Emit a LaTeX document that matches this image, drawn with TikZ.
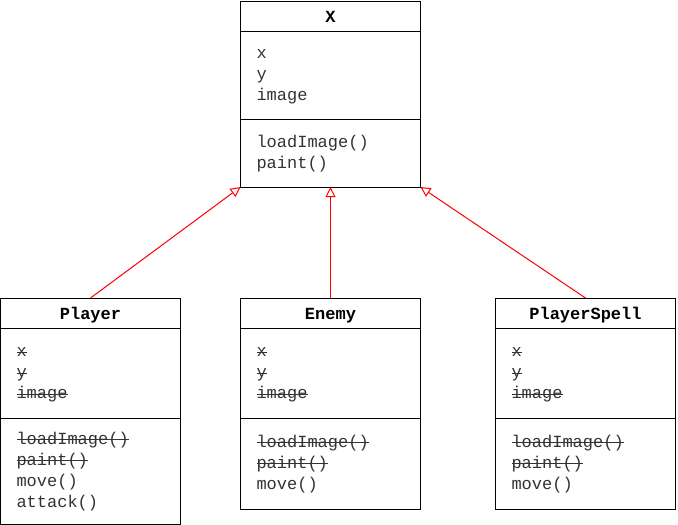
\documentclass[tikz,border=0pt]{standalone}
\usepackage{fontspec}
\setmonofont{Liberation Mono}
\usetikzlibrary{arrows.meta, positioning}
\definecolor{UMLText}{RGB}{51,51,51}
\definecolor{UMLRed}{RGB}{255,0,0}
\newcommand{\strk}[1]{\leavevmode\setbox0\hbox{#1}\rlap{\rule[0.27em]{\wd0}{0.8pt}}\box0}

\begin{document}
\begin{tikzpicture}[
            x=1pt, y=1pt,
            node distance=0pt,
            classbox/.style={
                draw=black,
                fill=white,
                line width=1pt,
                outer sep=0pt,
                inner xsep=16pt,
                text width=148pt,
                font=\ttfamily\fontsize{17}{21}\selectfont
            },
            titlebox/.style={
                classbox,
                align=center,
                minimum height=30pt,
                text height=13pt,
                text depth=0pt,
                font=\ttfamily\bfseries\fontsize{17}{21}\selectfont
            },
            partbox/.style={
                classbox,
                align=left,
                text=UMLText,
                execute at begin node={\rule{0pt}{13.5pt}}
            },
            inherit/.style={-{Triangle[open, length=10pt, width=10pt]}, draw=UMLRed, line width=1pt}
        ]
            \useasboundingbox (0,0) rectangle (678,-525);

            % base class
            \node[titlebox] (xtitle) at (330.5,-16) {X};
            \node[partbox, minimum height=88pt, below=of xtitle] (xattr) {x\\y\\image};
            \node[partbox, minimum height=68pt, below=of xattr] (xmeth) {loadImage()\\paint()};

            % subclasses
            \node[titlebox] (ptitle) at (90.5,-313) {Player};
            \node[partbox, minimum height=90pt, below=of ptitle] (pattr) {\strk{x}\\\strk{y}\\\strk{image}};
            \node[partbox, minimum height=106pt, below=of pattr] (pmeth) {\strk{loadImage()}\\\strk{paint()}\\move()\\attack()};

            \node[titlebox] (etitle) at (330.5,-313) {Enemy};
            \node[partbox, minimum height=90pt, below=of etitle] (eattr) {\strk{x}\\\strk{y}\\\strk{image}};
            \node[partbox, minimum height=91pt, below=of eattr] (emeth) {\strk{loadImage()}\\\strk{paint()}\\move()};

            \node[titlebox] (stitle) at (585.5,-313) {PlayerSpell};
            \node[partbox, minimum height=90pt, below=of stitle] (sattr) {\strk{x}\\\strk{y}\\\strk{image}};
            \node[partbox, minimum height=91pt, below=of sattr] (smeth) {\strk{loadImage()}\\\strk{paint()}\\move()};

            \draw[inherit] (ptitle.north) -- (xmeth.south west);
            \draw[inherit] (etitle.north) -- (xmeth.south);
            \draw[inherit] (stitle.north) -- (xmeth.south east);
        \end{tikzpicture}
\end{document}
